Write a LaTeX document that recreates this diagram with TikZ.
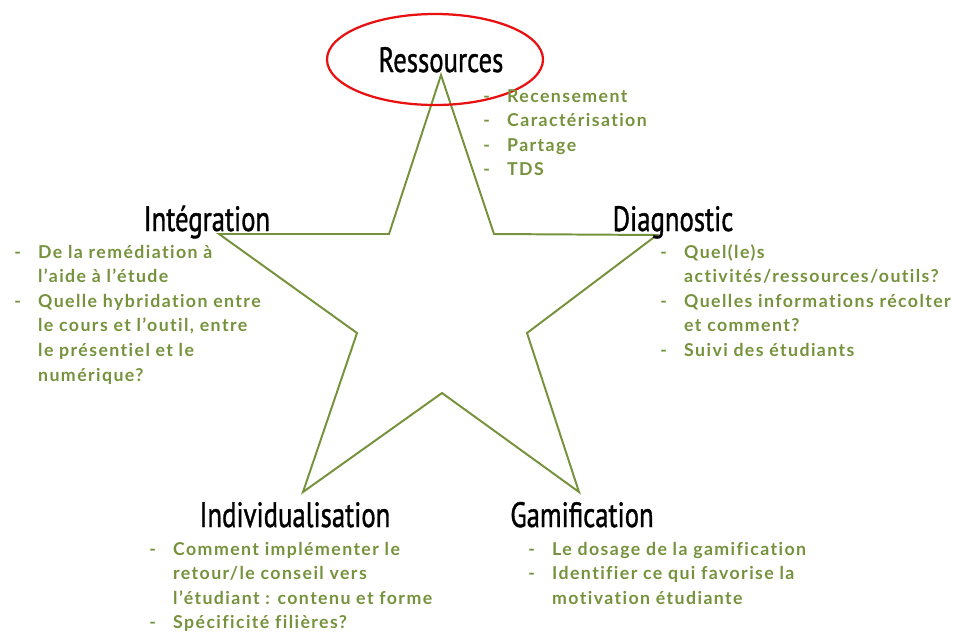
\documentclass[tikz,border=0pt]{standalone}
\usepackage{fontspec}
\usepackage{graphicx}
\setmainfont{Lato}
\newfontfamily\headfont[FakeBold=1.2]{PT Sans}
\newfontfamily\listfont[LetterSpace=8, Ligatures={NoCommon}]{Lato Bold}
\usepackage{tikz}
\usetikzlibrary{positioning,calc}

\definecolor{olive}{RGB}{118,146,60}
\definecolor{ringred}{RGB}{232,16,16}

\tikzset{
  heading/.style={anchor=base, inner sep=0pt, font=\headfont\fontsize{25}{28}\selectfont},
  bullets/.style={anchor=base west, inner sep=0pt, text=olive, font=\listfont\fontsize{12.6}{17.5}\selectfont},
  starline/.style={draw=olive, line width=1.4pt, line join=miter},
}

% narrow titles and dash lists
\newcommand{\headtext}[1]{\scalebox{0.76}[1]{#1}}
\newenvironment{dashlist}{\begin{tabular}[t]{@{}p{17pt}@{}l@{}}}{\end{tabular}}

\begin{document}
\begin{tikzpicture}[x=0.025cm, y=-0.025cm]
        \useasboundingbox (0,0) rectangle (957,632);

        % Star
        \coordinate (top) at (441,75);
        \coordinate (innerUR) at (494,234);
        \coordinate (right) at (657,235);
        \coordinate (innerR) at (527,333);
        \coordinate (botR) at (579,492);
        \coordinate (innerB) at (442,393);
        \coordinate (botL) at (303,492);
        \coordinate (innerL) at (357,333);
        \coordinate (left) at (219,234);
        \coordinate (innerUL) at (389,234);
        \draw[starline] (top) -- (innerUR) -- (right) -- (innerR) -- (botR)
            -- (innerB) -- (botL) -- (innerL) -- (left) -- (innerUL) -- cycle;

        % Ressources
        \node[heading] (res) at (441,72) {\headtext{Ressources}};
        \draw[ringred, line width=1.6pt] (435,59.5) ellipse [x radius=108, y radius=45.5];
        \node[bullets] (resList) at (483,102) {\begin{dashlist}
            - & Recensement\\
            - & Caractérisation\\
            - & Partage\\
            - & TDS
        \end{dashlist}};

        % Integration
        \node[heading] (integ) at (207,231) {\headtext{Intégration}};
        \node[bullets] (integList) at (14,258) {\begin{dashlist}
            - & De la remédiation à\\
              & l’aide à l’étude\\
            - & Quelle hybridation entre\\
              & le cours et l’outil, entre\\
              & le présentiel et le\\
              & numérique?
        \end{dashlist}};

        % Diagnostic
        \node[heading] (diag) at (673,231) {\headtext{Diagnostic}};
        \node[bullets] (diagList) at (660,258) {\begin{dashlist}
            - & Quel(le)s\\
              & activités/ressources/outils?\\
            - & Quelles informations récolter\\
              & et comment?\\
            - & Suivi des étudiants
        \end{dashlist}};

        % Individualisation
        \node[heading] (indiv) at (295,527) {\headtext{Individualisation}};
        \node[bullets] (indivList) at (149,555) {\begin{dashlist}
            - & Comment implémenter le\\
              & retour/le conseil vers\\
              & l’étudiant : contenu et forme\\
            - & Spécificité filières?
        \end{dashlist}};

        % Gamification
        \node[heading] (gami) at (582,527) {\headtext{Gamification}};
        \node[bullets] (gamiList) at (528,555) {\begin{dashlist}
            - & Le dosage de la gamification\\
            - & Identifier ce qui favorise la\\
              & motivation étudiante
        \end{dashlist}};
    \end{tikzpicture}
\end{document}
